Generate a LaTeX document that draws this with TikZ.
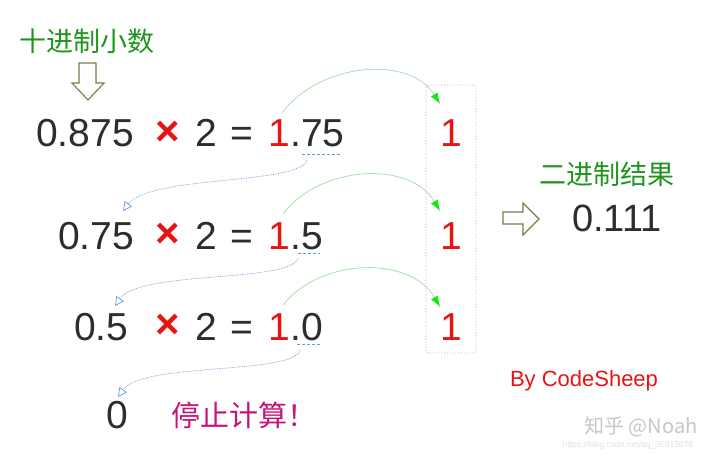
\documentclass[tikz,border=0pt]{standalone}
\usepackage{fontspec}
\setmainfont{Liberation Sans}
\newfontfamily\cjk{Noto Sans CJK SC}
\usetikzlibrary{arrows.meta}
\definecolor{txt}{RGB}{45,45,45}
\definecolor{myred}{RGB}{232,20,20}
\definecolor{mygreen}{RGB}{30,150,30}
\definecolor{mymagenta}{RGB}{200,20,120}
\definecolor{linegreen}{RGB}{170,225,170}
\definecolor{tipgreen}{RGB}{20,230,20}
\definecolor{lineblue}{RGB}{100,155,215}
\definecolor{boxviolet}{RGB}{205,140,230}
\definecolor{arrowolive}{RGB}{110,130,70}
\tikzset{
  num/.style={inner sep=0pt, anchor=base west, text=txt, font=\fontsize{39}{39}\selectfont},
  rednum/.style={num, text=myred},
  timessign/.style={inner sep=0pt, text=myred, font=\fontsize{42}{42}\selectfont\bfseries},
  cn/.style={inner sep=0pt, font=\cjk\fontsize{27}{27}\selectfont},
  carry/.style={draw=linegreen, line width=0.8pt, -{Latex[length=11pt,width=8pt,color=tipgreen,fill=tipgreen]}},
  back/.style={draw=lineblue, densely dotted, line width=0.7pt, -{Triangle[open,length=9pt,width=9pt]}},
  under/.style={draw=lineblue, line width=0.7pt, dash pattern=on 3pt off 2pt},
  hollow/.style={draw=arrowolive, line width=1.1pt, line join=miter, fill=white},
}
\begin{document}
\begin{tikzpicture}[x=1pt,y=-1pt]
\useasboundingbox[fill=white] (0,0) rectangle (720,457);

% title
\node[cn, text=mygreen] (dec) at (87,41) {十进制小数};
\path[hollow] (79,63) -- (96,63) -- (96,83) -- (104,83) -- (88,100) -- (72,83) -- (79,83) -- cycle;

% row 1
\node[num] (a1) at (36,147) {0.875};
\node[timessign] (x1) at (168,133) {×};
\node[num] (m1) at (195,147) {2};
\node[num] (q1) at (230,147) {=};
\node[rednum] (o1) at (268,147) {1};
\node[num] (f1) at (o1.base east) {.75};

% row 2
\node[num] (a2) at (58,249) {0.75};
\node[timessign] (x2) at (168,235) {×};
\node[num] (m2) at (195,249) {2};
\node[num] (q2) at (230,249) {=};
\node[rednum] (o2) at (268,249) {1};
\node[num] (f2) at (o2.base east) {.5};

% row 3
\node[num] (a3) at (74,340) {0.5};
\node[timessign] (x3) at (168,326) {×};
\node[num] (m3) at (195,340) {2};
\node[num] (q3) at (230,340) {=};
\node[rednum] (o3) at (268,340) {1};
\node[num] (f3) at (o3.base east) {.0};

% row 4
\node[num] (a4) at (106,428) {0};
\node[cn, anchor=west, text=mymagenta, font=\cjk\fontsize{29}{29}\selectfont] (stop) at (171,415) {停止计算！};

% result box
\node[draw=boxviolet, dotted, rounded corners=3pt, line width=0.8pt,
      minimum width=50pt, minimum height=268pt, inner sep=0pt] (box) at (451,219) {};
\node[rednum, anchor=base] (b1) at (451.5,147) {1};
\node[rednum, anchor=base] (b2) at (451.5,249) {1};
\node[rednum, anchor=base] (b3) at (451.5,340) {1};

% underlines
\coordinate (u1s) at (302,154); \coordinate (u1e) at (342,154);
\coordinate (u2s) at (298,253); \coordinate (u2e) at (320,253);
\coordinate (u3s) at (297,344); \coordinate (u3e) at (320,344);
\draw[under] (u1s) -- (u1e);
\draw[under] (u2s) -- (u2e);
\draw[under] (u3s) -- (u3e);

% green carry arrows
\draw[carry] ([xshift=3pt,yshift=7pt]o1.north) .. controls (320,62) and (410,55) .. ([xshift=-11.5pt,yshift=16pt]b1.north);
\draw[carry] ([xshift=4pt,yshift=8pt]o2.north) .. controls (320,165) and (410,160) .. ([xshift=-11.5pt,yshift=11pt]b2.north);
\draw[carry] ([xshift=4pt,yshift=8pt]o3.north) .. controls (320,258) and (410,255) .. ([xshift=-11.5pt,yshift=6pt]b3.north);

% blue back arrows
\coordinate (s1) at (307,160); \coordinate (t1) at (123,211);
\coordinate (s2) at (298,258); \coordinate (t2) at (115,306);
\coordinate (s3) at (300,350); \coordinate (t3) at (118,397);
\draw[back] (s1) .. controls (300,185) and (150,175) .. (t1);
\draw[back] (s2) .. controls (292,283) and (140,270) .. (t2);
\draw[back] (s3) .. controls (294,375) and (143,362) .. (t3);

% result
\node[cn, text=mygreen] (bin) at (607,174) {二进制结果};
\path[hollow] (503,212) -- (523,212) -- (523,203) -- (539,219) -- (523,235) -- (523,224) -- (503,224) -- cycle;
\node[num, font=\fontsize{38}{38}\selectfont] (res) at (572,232) {0.111};

% credits
\node[inner sep=0pt, text=myred, font=\fontsize{22}{22}\selectfont] (by) at (584,381) {By CodeSheep};
\node[inner sep=0pt, text=black!22, font=\cjk\fontsize{20}{20}\selectfont] (wm) at (641,427) {知乎 @Noah};
\node[inner sep=0pt, text=black!12, font=\fontsize{8.5}{8.5}\selectfont] (url) at (628,445) {https://blog.csdn.net/qq\_35915078};
\end{tikzpicture}
\end{document}
